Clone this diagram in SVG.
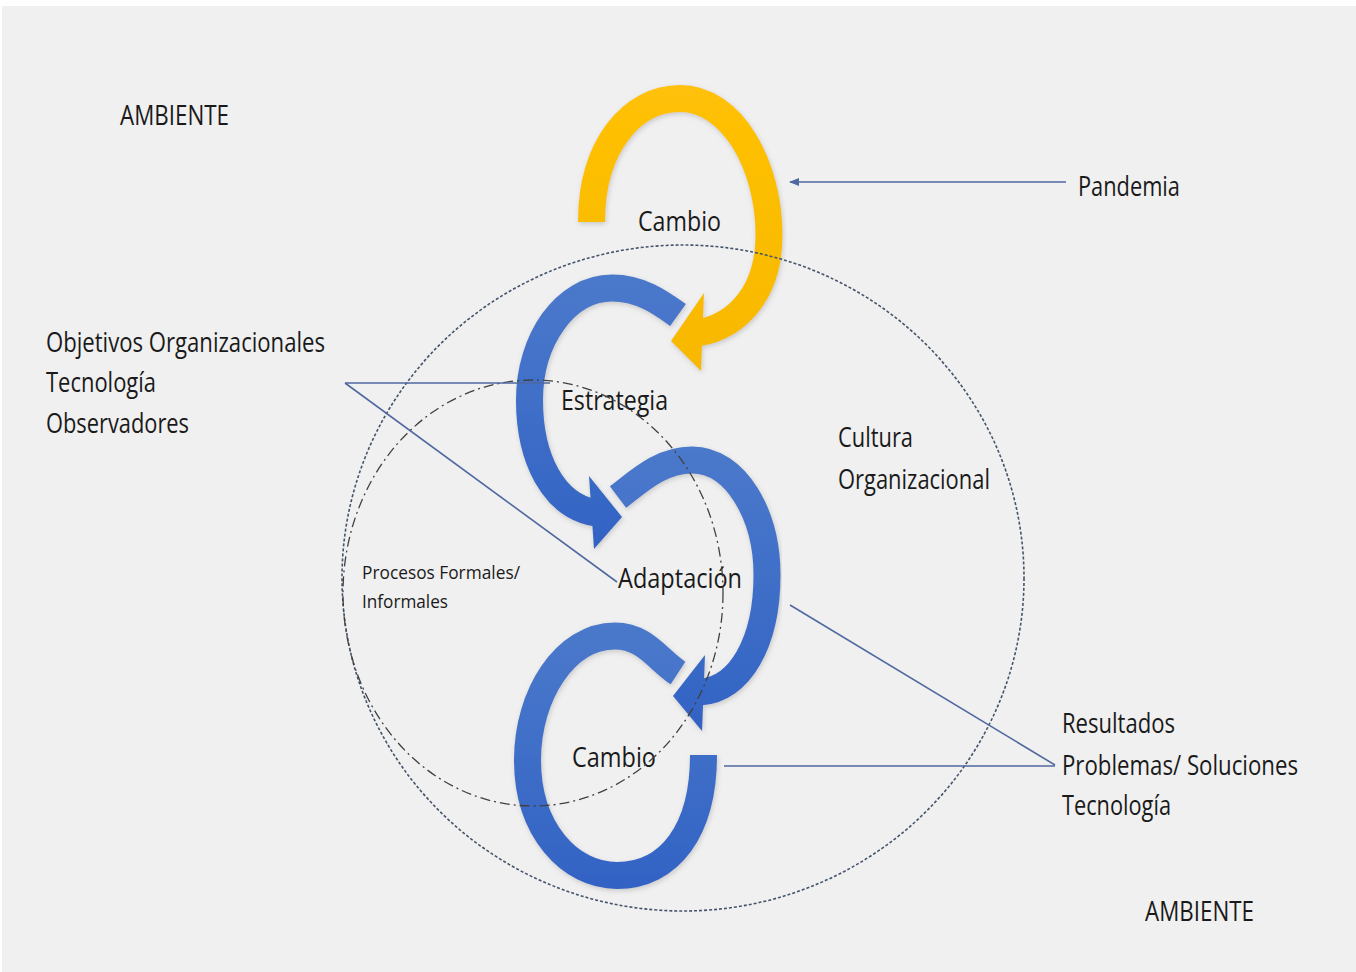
<svg xmlns="http://www.w3.org/2000/svg" width="1356" height="972" viewBox="0 0 1356 972">
<style>
  .lbl{font-family:"Open Sans","Liberation Sans",sans-serif;font-size:27px;fill:#1a1a1a;}
  .sm{font-family:"Open Sans","Liberation Sans",sans-serif;font-size:19px;fill:#1a1a1a;}
  .band{fill:none;stroke-width:27;stroke-linecap:butt;}
  .conn{fill:none;stroke:#5069a0;stroke-width:1.6;}
  .cult{fill:none;stroke:#44546a;stroke-width:1.6;stroke-dasharray:3 2;}
  .proc{fill:none;stroke:#404040;stroke-width:1.3;stroke-dasharray:10 4 2 4;}
</style>
<defs>
  <linearGradient id="gy" x1="0" y1="85" x2="0" y2="372" gradientUnits="userSpaceOnUse">
    <stop offset="0" stop-color="#ffc107"/><stop offset="1" stop-color="#f7b800"/>
  </linearGradient>
  <linearGradient id="gb1" x1="0" y1="275" x2="0" y2="550" gradientUnits="userSpaceOnUse">
    <stop offset="0" stop-color="#4b79cb"/><stop offset="1" stop-color="#3263c4"/>
  </linearGradient>
  <linearGradient id="gb2" x1="0" y1="445" x2="0" y2="732" gradientUnits="userSpaceOnUse">
    <stop offset="0" stop-color="#4b79cb"/><stop offset="1" stop-color="#3263c4"/>
  </linearGradient>
  <linearGradient id="gb3" x1="0" y1="622" x2="0" y2="890" gradientUnits="userSpaceOnUse">
    <stop offset="0" stop-color="#4b79cb"/><stop offset="1" stop-color="#3263c4"/>
  </linearGradient>
  <filter id="soft" x="-10%" y="-10%" width="120%" height="120%">
    <feGaussianBlur in="SourceAlpha" stdDeviation="2.5"/>
    <feOffset dx="1" dy="1.5" result="b"/>
    <feFlood flood-color="#808080" flood-opacity="0.35"/>
    <feComposite in2="b" operator="in"/>
    <feMerge><feMergeNode/><feMergeNode in="SourceGraphic"/></feMerge>
  </filter>
  <marker id="ah" markerWidth="10" markerHeight="8" refX="9" refY="4" orient="auto" markerUnits="userSpaceOnUse">
    <path d="M0 0 L10 4 L0 8 Z" fill="#5069a0"/>
  </marker>
</defs>

<rect x="0" y="0" width="1356" height="972" fill="#ffffff"/>
<rect x="2" y="6" width="1354" height="966" fill="#f0f0f0"/>

<g id="cambio-top">
  <g filter="url(#soft)">
    <path class="band" stroke="url(#gy)" d="M 591.5 222 C 591.5 146, 632 98.5, 680 98.5 C 732 98.5, 769 165, 769 235 C 769 292, 738 326, 698 333"/>
    <polygon points="704,293 671,341 701,371" fill="url(#gy)"/>
  </g>
  <text class="lbl" x="638" y="231" textLength="83" lengthAdjust="spacingAndGlyphs">Cambio</text>
</g>

<g id="estrategia">
  <g filter="url(#soft)">
    <path class="band" stroke="url(#gb1)" d="M 678 315 C 660 302, 640 288, 612 288 C 565 288, 529.5 340, 529.5 400 C 529.5 458, 553 506, 596 513"/>
    <polygon points="589,476 622,517 594,549" fill="url(#gb1)"/>
  </g>
  <text class="lbl" x="561" y="410" textLength="107" lengthAdjust="spacingAndGlyphs">Estrategia</text>
</g>

<g id="adaptacion">
  <g filter="url(#soft)">
    <path class="band" stroke="url(#gb2)" d="M 618 497 C 638 482, 660 460, 692 460 C 736 460, 767 515, 767 575 C 767 642, 740 690, 700 692"/>
    <polygon points="705,655 673,696 702,731" fill="url(#gb2)"/>
  </g>
  <text class="lbl" x="618" y="588" textLength="124" lengthAdjust="spacingAndGlyphs">Adaptación</text>
</g>

<g id="cambio-bottom">
  <g filter="url(#soft)">
    <path class="band" stroke="url(#gb3)" d="M 678 673 C 658 660, 645 636, 615 636 C 565 636, 527.5 695, 527.5 760 C 527.5 830, 570 875.5, 617 875.5 C 670 875.5, 703.5 830, 703.5 755"/>
  </g>
  <text class="lbl" x="572" y="767" textLength="84" lengthAdjust="spacingAndGlyphs">Cambio</text>
</g>

<g id="cultura-organizacional">
  <ellipse class="cult" cx="683" cy="578" rx="341" ry="333"/>
  <text class="lbl" x="838" y="447" textLength="75" lengthAdjust="spacingAndGlyphs">Cultura</text>
  <text class="lbl" x="838" y="489" textLength="152" lengthAdjust="spacingAndGlyphs">Organizacional</text>
</g>

<g id="procesos">
  <ellipse class="proc" cx="533" cy="593" rx="190" ry="213"/>
  <text class="sm" x="362" y="579" textLength="158" lengthAdjust="spacingAndGlyphs">Procesos Formales/</text>
  <text class="sm" x="362" y="608" textLength="86" lengthAdjust="spacingAndGlyphs">Informales</text>
</g>

<g id="ambiente-top">
  <text class="lbl" x="120" y="125" textLength="109" lengthAdjust="spacingAndGlyphs">AMBIENTE</text>
</g>

<g id="pandemia">
  <text class="lbl" x="1078" y="196" textLength="102" lengthAdjust="spacingAndGlyphs">Pandemia</text>
</g>

<g id="objetivos">
  <text class="lbl" x="46" y="352" textLength="279" lengthAdjust="spacingAndGlyphs">Objetivos Organizacionales</text>
  <text class="lbl" x="46" y="392" textLength="110" lengthAdjust="spacingAndGlyphs">Tecnología</text>
  <text class="lbl" x="46" y="433" textLength="143" lengthAdjust="spacingAndGlyphs">Observadores</text>
</g>

<g id="resultados">
  <text class="lbl" x="1062" y="733" textLength="113" lengthAdjust="spacingAndGlyphs">Resultados</text>
  <text class="lbl" x="1062" y="775" textLength="236" lengthAdjust="spacingAndGlyphs">Problemas/ Soluciones</text>
  <text class="lbl" x="1062" y="815" textLength="109" lengthAdjust="spacingAndGlyphs">Tecnología</text>
</g>

<g id="ambiente-bottom">
  <text class="lbl" x="1145" y="921" textLength="109" lengthAdjust="spacingAndGlyphs">AMBIENTE</text>
</g>

<g id="connectors">
  <line class="conn" x1="1066" y1="182" x2="790" y2="182" marker-end="url(#ah)"/>
  <line class="conn" x1="345" y1="383" x2="550" y2="383"/>
  <line class="conn" x1="345" y1="383" x2="617" y2="582"/>
  <line class="conn" x1="1055" y1="765" x2="790" y2="605"/>
  <line class="conn" x1="1055" y1="766" x2="724" y2="766"/>
</g>
</svg>
